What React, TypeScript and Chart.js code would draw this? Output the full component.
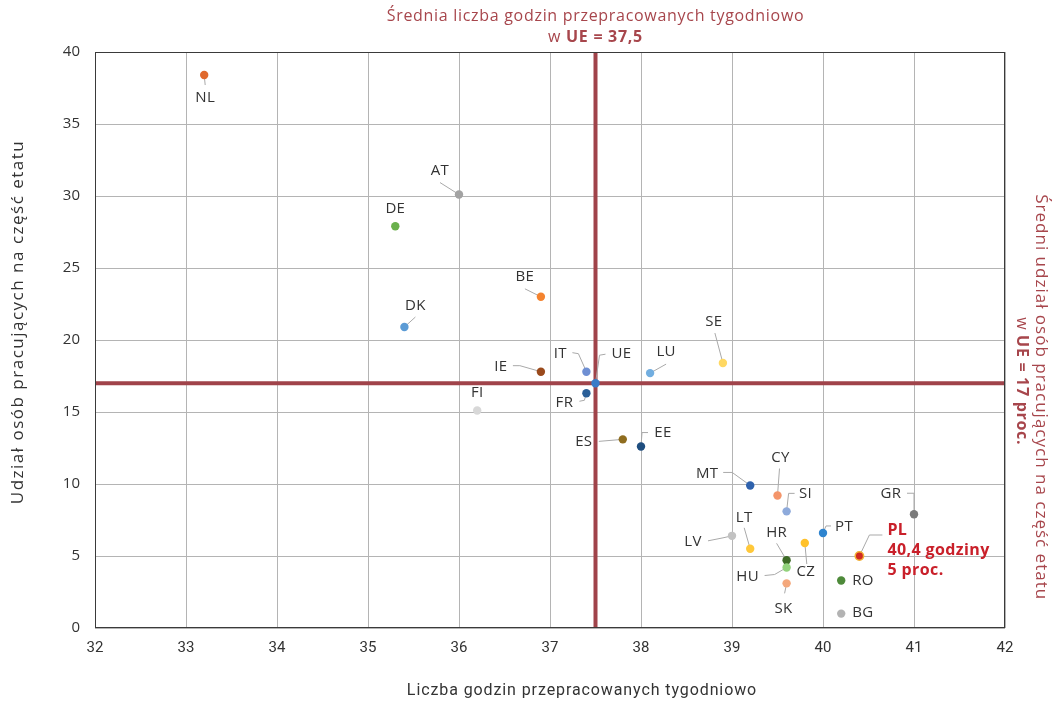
import { useEffect, useRef } from "react";
import { Chart, registerables } from "chart.js";

Chart.register(...registerables);

// Country codes, weekly hours worked and share of part-time workers (%)
const countries = ["NL", "AT", "DE", "BE", "DK", "IE", "IT", "UE", "LU", "SE", "FI", "FR", "ES", "EE", "MT", "CY", "SI", "GR", "PT", "PL", "CZ", "LV", "LT", "HR", "HU", "RO", "SK", "BG"];
const hoursPerWeek = [33.2, 36.0, 35.3, 36.9, 35.4, 36.9, 37.4, 37.5, 38.1, 38.9, 36.2, 37.4, 37.8, 38.0, 39.2, 39.5, 39.6, 41.0, 40.0, 40.4, 39.8, 39.0, 39.2, 39.6, 39.6, 40.2, 39.6, 40.2];
const partTimeShare = [38.4, 30.1, 27.9, 23.0, 20.9, 17.8, 17.8, 17.0, 17.7, 18.4, 15.1, 16.3, 13.1, 12.6, 9.9, 9.2, 8.1, 7.9, 6.6, 5, 5.9, 6.4, 5.5, 4.7, 4.2, 3.3, 3.1, 1.0];
const dotColors = ["#e0692e", "#a3a3a3", "#6ab04c", "#f4832f", "#5b9bd5", "#9a4a1c", "#6f8fd3", "#3a7bc8", "#72aee0", "#ffd862", "#d8d8d8", "#2a5f98", "#8f6d1f", "#1f4e7f", "#2f62ad", "#f4956a", "#8eaadb", "#7b7b7b", "#2e84cf", "#d02a22", "#ffc12a", "#c2c2c2", "#ffc83a", "#3d6b26", "#92d27c", "#4e8a3a", "#f4a87c", "#b3b3b3"];

// EU averages used for the two reference lines
const euHours = 37.5;
const euShare = 17;
const highlighted = "PL";

const xMin = 32, xMax = 42;
const yMin = 0, yMax = 40;

const xTitle = "Liczba godzin przepracowanych tygodniowo";
const yTitle = "Udział osób pracujących na część etatu";
const topTitle = "Średnia liczba godzin przepracowanych tygodniowo";
const rightTitle = "Średni udział osób pracujących na część etatu";

// Label placement around each dot: text centre offset and leader-line bend points (px)
type Placement = { t: [number, number]; leader?: [number, number][]; align?: CanvasTextAlign };
const placements: Record<string, Placement> = {
  NL: { t: [1, 23], leader: [[1, 10]] },
  AT: { t: [-19, -24], leader: [[-19, -12]] },
  DE: { t: [0, -18] },
  BE: { t: [-16, -20], leader: [[-16, -8]] },
  DK: { t: [11, -21], leader: [[11, -10]] },
  IE: { t: [-40, -5], leader: [[-28, -6], [-21, -6]] },
  IT: { t: [-26, -18], leader: [[-14, -19], [-8, -18]] },
  UE: { t: [26, -29], leader: [[10, -29], [4, -28]] },
  LU: { t: [16, -21], leader: [[16, -9]] },
  SE: { t: [-9, -41], leader: [[-8, -30]] },
  FI: { t: [0, -18] },
  FR: { t: [-22, 9], leader: [[-7, 8], [-2, 7]] },
  ES: { t: [-39, 2], leader: [[-24, 2]] },
  EE: { t: [22, -14], leader: [[7, -14], [1, -14]] },
  MT: { t: [-43, -12], leader: [[-27, -13], [-18, -13]] },
  CY: { t: [3, -38], leader: [[2, -27]] },
  SI: { t: [19, -18], leader: [[8, -18], [2, -18]] },
  GR: { t: [-23, -21], leader: [[-7, -21], [0, -21]] },
  PT: { t: [21, -6], leader: [[8, -7], [3, -7]] },
  PL: { t: [28, -26], leader: [[23, -21], [10, -21]], align: "left" },
  CZ: { t: [1, 29], leader: [[2, 21]] },
  LV: { t: [-39, 6], leader: [[-24, 5], [-9, 2]] },
  LT: { t: [-6, -31], leader: [[-6, -21]] },
  HR: { t: [-10, -28], leader: [[-10, -17]] },
  HU: { t: [-39, 9], leader: [[-22, 8], [-12, 7]] },
  RO: { t: [11, 0], align: "left" },
  BG: { t: [11, -1], align: "left" },
  SK: { t: [-3, 25], leader: [[-2, 10]] },
};

const FONT = "'Open Sans', 'Noto Sans', sans-serif";
const NARROW = "'Roboto', sans-serif";
const INK = "#333333";
const ACCENT = "#a7464c";
const PL_RED = "#c9202a";

const fmt = (v: number) => v.toLocaleString("pl-PL", { maximumFractionDigits: 1 });

const overlayPlugin = {
  id: "overlay",
  beforeDatasetsDraw(chart: any) {
    const { ctx, chartArea: a, scales } = chart;
    const xs = scales.x, ys = scales.y;
    ctx.save();
    // EU average reference lines
    ctx.strokeStyle = "#a0434a";
    ctx.lineWidth = 4;
    const vx = xs.getPixelForValue(euHours);
    const hy = ys.getPixelForValue(euShare);
    ctx.beginPath();
    ctx.moveTo(a.left, hy);
    ctx.lineTo(a.right, hy);
    ctx.moveTo(vx, a.top);
    ctx.lineTo(vx, a.bottom);
    ctx.stroke();
    // leader lines
    ctx.strokeStyle = "#a9a9a9";
    ctx.lineWidth = 1;
    countries.forEach((c, i) => {
      const p = placements[c];
      if (!p || !p.leader) return;
      const px = xs.getPixelForValue(hoursPerWeek[i]);
      const py = ys.getPixelForValue(partTimeShare[i]);
      ctx.beginPath();
      p.leader.forEach(([dx, dy], k) => {
        if (k === 0) ctx.moveTo(px + dx, py + dy);
        else ctx.lineTo(px + dx, py + dy);
      });
      ctx.lineTo(px, py);
      ctx.stroke();
    });
    ctx.restore();
  },
  afterDatasetsDraw(chart: any) {
    const { ctx, scales } = chart;
    const xs = scales.x, ys = scales.y;
    ctx.save();
    ctx.textBaseline = "middle";
    countries.forEach((c, i) => {
      const p = placements[c];
      if (!p) return;
      const px = xs.getPixelForValue(hoursPerWeek[i]);
      const py = ys.getPixelForValue(partTimeShare[i]);
      ctx.textAlign = p.align || "center";
      if (c === highlighted) {
        ctx.fillStyle = PL_RED;
        ctx.font = `bold 16px ${FONT}`;
        ctx.letterSpacing = "0.4px";
        const lines = [c, `${fmt(hoursPerWeek[i])} godziny`, `${fmt(partTimeShare[i])} proc.`];
        lines.forEach((ln, k) => ctx.fillText(ln, px + p.t[0], py + p.t[1] + k * 20));
        ctx.letterSpacing = "0px";
      } else {
        ctx.fillStyle = INK;
        ctx.font = `15px ${FONT}`;
        ctx.letterSpacing = "0.3px";
        ctx.fillText(c, px + p.t[0], py + p.t[1]);
      }
    });
    ctx.restore();
  },
  afterDraw(chart: any) {
    const { ctx, chartArea: a, scales } = chart;
    const xs = scales.x, ys = scales.y;
    ctx.save();
    // frame around the plot
    ctx.strokeStyle = "#3a3a3a";
    ctx.lineWidth = 1;
    ctx.strokeRect(a.left + 0.5, a.top + 0.5, a.right - a.left - 1, a.bottom - a.top - 1);

    ctx.textBaseline = "middle";
    // axis titles
    ctx.fillStyle = INK;
    ctx.font = `16px ${NARROW}`;
    ctx.letterSpacing = "0.9px";
    ctx.textAlign = "center";
    ctx.fillText(xTitle, 582, 691);
    ctx.save();
    ctx.translate(18, 322);
    ctx.rotate(-Math.PI / 2);
    ctx.font = `17px ${FONT}`;
    ctx.letterSpacing = "1.5px";
    ctx.fillText(yTitle, 0, 0);
    ctx.restore();

    // mixed regular / bold line, centred on (cx, cy) in the current frame
    const mixed = (pre: string, bold: string, cx: number, cy: number) => {
      ctx.font = `16px ${FONT}`;
      const w1 = ctx.measureText(pre).width;
      ctx.font = `bold 16px ${FONT}`;
      const w2 = ctx.measureText(bold).width;
      const start = cx - (w1 + w2) / 2;
      ctx.textAlign = "left";
      ctx.font = `16px ${FONT}`;
      ctx.fillText(pre, start, cy);
      ctx.font = `bold 16px ${FONT}`;
      ctx.fillText(bold, start + w1, cy);
    };

    // top title about the vertical EU line
    ctx.fillStyle = ACCENT;
    ctx.letterSpacing = "0.7px";
    const vx = xs.getPixelForValue(euHours);
    ctx.font = `16px ${FONT}`;
    ctx.textAlign = "center";
    ctx.fillText(topTitle, vx, 16);
    mixed("w ", `UE = ${fmt(euHours)}`, vx, 37);

    // right title about the horizontal EU line
    const hy = ys.getPixelForValue(euShare);
    ctx.save();
    ctx.translate(1041, hy);
    ctx.rotate(Math.PI / 2);
    ctx.font = `17px ${FONT}`;
    ctx.letterSpacing = "1px";
    ctx.textAlign = "center";
    ctx.fillText(rightTitle, 14, 0);
    ctx.letterSpacing = "0.7px";
    mixed("w ", `UE = ${fmt(euShare)} proc.`, -2, 19);
    ctx.restore();

    ctx.restore();
  },
};

export default function App() {
  const ref = useRef<HTMLCanvasElement | null>(null);

  useEffect(() => {
    if (!ref.current) return;
    const chart = new Chart(ref.current, {
      type: "scatter",
      data: {
        datasets: [
          {
            data: hoursPerWeek.map((x, i) => ({ x, y: partTimeShare[i] })),
            backgroundColor: dotColors,
            borderColor: countries.map((c, i) => (c === highlighted ? "#f2b134" : dotColors[i])),
            borderWidth: countries.map((c) => (c === highlighted ? 1.5 : 0)),
            pointRadius: 4.2,
            pointHoverRadius: 4.2,
          },
        ],
      },
      options: {
        animation: false,
        responsive: false,
        devicePixelRatio: 1,
        layout: { padding: { top: 52, right: 55, left: 0, bottom: 0 } },
        plugins: { legend: { display: false }, tooltip: { enabled: false }, title: { display: false } },
        scales: {
          x: {
            type: "linear",
            min: xMin,
            max: xMax,
            ticks: { stepSize: 1, padding: 11, color: INK, font: { family: NARROW, size: 15 } },
            grid: { color: "#b4b4b4", drawTicks: false },
            border: { display: false },
            afterFit: (s: any) => { s.height = 74; },
          },
          y: {
            type: "linear",
            min: yMin,
            max: yMax,
            ticks: { stepSize: 5, padding: 15, color: INK, font: { family: FONT, size: 15 } },
            grid: { color: "#b4b4b4", drawTicks: false },
            border: { display: false },
            afterFit: (s: any) => { s.width = 95; },
          },
        },
      },
      plugins: [overlayPlugin],
    });
    return () => chart.destroy();
  }, []);

  return (
    <canvas
      ref={ref}
      width={1060}
      height={702}
      style={{ display: "block", position: "absolute", left: 0, top: 0 }}
    />
  );
}
